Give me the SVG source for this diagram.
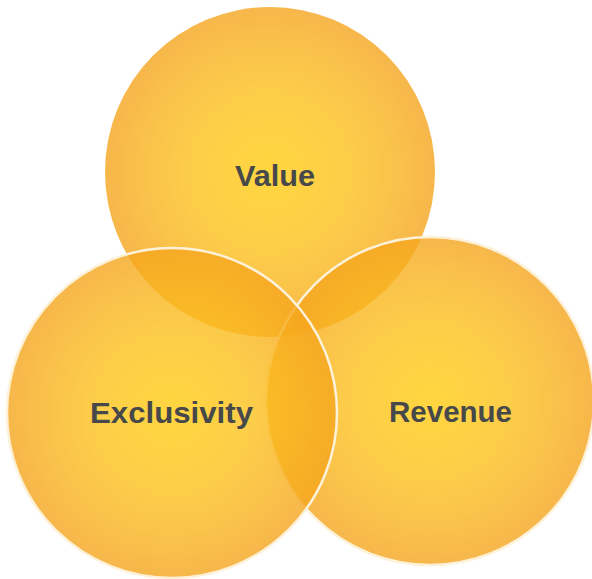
<svg xmlns="http://www.w3.org/2000/svg" width="592" height="579" viewBox="0 0 592 579">
  <defs>
    <radialGradient id="g" cx="50%" cy="50%" r="50%">
      <stop offset="0" stop-color="#ffcc10"/>
      <stop offset="0.5" stop-color="#fcc01c"/>
      <stop offset="1" stop-color="#f5a51e"/>
    </radialGradient>
  </defs>
  <style>
    .c { fill: url(#g); fill-opacity: 0.8; }
    .s { stroke: #fdf1d8; stroke-width: 2.5; }
    .t { font-family: "Liberation Sans", Arial, sans-serif; font-weight: bold; font-size: 30px; fill: #46484a; text-anchor: middle; }
  </style>
  <rect width="592" height="579" fill="#ffffff"/>
  <g id="value">
    <circle class="c" cx="270" cy="172" r="165"/>
  </g>
  <g id="revenue">
    <circle class="c s" cx="430" cy="401" r="164"/>
  </g>
  <g id="exclusivity">
    <circle class="c s" cx="172" cy="413" r="165"/>
  </g>
  <g id="labels">
    <text class="t" x="275" y="186" textLength="80" lengthAdjust="spacingAndGlyphs">Value</text>
    <text class="t" x="171.5" y="423" textLength="163" lengthAdjust="spacingAndGlyphs">Exclusivity</text>
    <text class="t" x="450.5" y="422" textLength="123" lengthAdjust="spacingAndGlyphs">Revenue</text>
  </g>
  <g id="connectors"/>
</svg>
